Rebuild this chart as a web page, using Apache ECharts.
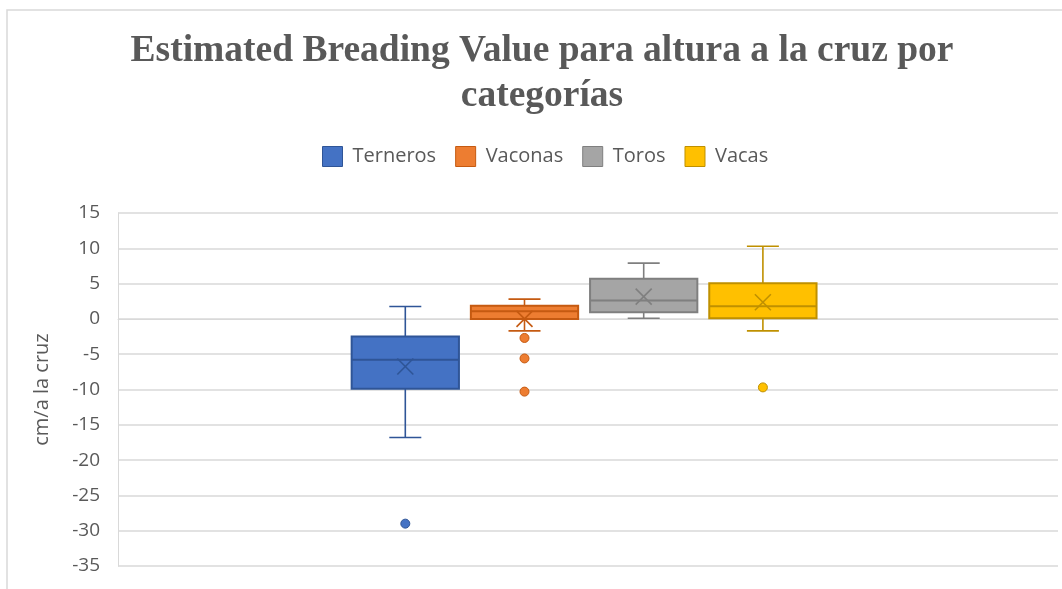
<!DOCTYPE html>
<html>
<head>
<meta charset="utf-8">
<script src="https://cdn.jsdelivr.net/npm/echarts@6/dist/echarts.min.js"></script>
<style>
  html, body { margin: 0; padding: 0; background: #fff; }
  #chart { width: 1062px; height: 589px; }
</style>
</head>
<body>
<div id="chart"></div>
<script>
// categorías y estadísticos
const categories = ['Terneros', 'Vaconas', 'Toros', 'Vacas'];
const whiskerMin = [-16.8, -1.7, 0.1, -1.7];
const q1 = [-9.9, 0.0, 0.95, 0.1];
const median = [-5.8, 1.1, 2.6, 1.8];
const q3 = [-2.5, 1.85, 5.7, 5.05];
const whiskerMax = [1.75, 2.8, 7.9, 10.3];
const mean = [-6.75, 0.0, 3.15, 2.35];
const outliers = [[-29.0], [-2.7, -5.6, -10.3], [], [-9.7]];
const yTicks = [-35, -30, -25, -20, -15, -10, -5, 0, 5, 10, 15];

const fills = ['#4472C4', '#ED7D31', '#A5A5A5', '#FFC000'];
const borders = ['#2F5597', '#C55A11', '#7F7F7F', '#BF9000'];

const chart = echarts.init(document.getElementById('chart'));

// dibuja caja, bigotes, mediana y media (X)
const renderBox = (params, api) => {
  const i = params.seriesIndex;
  const idx = api.value(0);
  const pMin = api.coord([idx, api.value(1)]);
  const pQ1 = api.coord([idx, api.value(2)]);
  const pMed = api.coord([idx, api.value(3)]);
  const pQ3 = api.coord([idx, api.value(4)]);
  const pMax = api.coord([idx, api.value(5)]);
  const pMean = api.coord([idx, api.value(6)]);
  const band = api.size([1, 0])[0];
  const half = band * 0.45;
  const cap = 16;
  const x = pMed[0];
  const line = { stroke: borders[i], lineWidth: 1.6 };
  return {
    type: 'group',
    children: [
      { type: 'line', shape: { x1: x, y1: pQ1[1], x2: x, y2: pMin[1] }, style: line },
      { type: 'line', shape: { x1: x, y1: pQ3[1], x2: x, y2: pMax[1] }, style: line },
      { type: 'line', shape: { x1: x - cap, y1: pMin[1], x2: x + cap, y2: pMin[1] }, style: line },
      { type: 'line', shape: { x1: x - cap, y1: pMax[1], x2: x + cap, y2: pMax[1] }, style: line },
      {
        type: 'rect',
        shape: { x: x - half, y: pQ3[1], width: half * 2, height: pQ1[1] - pQ3[1] },
        style: { fill: fills[i], stroke: borders[i], lineWidth: 2 }
      },
      { type: 'line', shape: { x1: x - half, y1: pMed[1], x2: x + half, y2: pMed[1] }, style: { stroke: borders[i], lineWidth: 2 } },
      { type: 'line', shape: { x1: x - 8, y1: pMean[1] - 8, x2: x + 8, y2: pMean[1] + 8 }, style: line },
      { type: 'line', shape: { x1: x - 8, y1: pMean[1] + 8, x2: x + 8, y2: pMean[1] - 8 }, style: line }
    ]
  };
};

const boxSeries = categories.map((name, i) => ({
  name: name,
  type: 'custom',
  xAxisIndex: 1,
  yAxisIndex: 1,
  renderItem: renderBox,
  encode: { x: 0, y: [1, 2, 3, 4, 5, 6] },
  itemStyle: { color: fills[i], borderColor: borders[i] },
  data: [[i, whiskerMin[i], q1[i], median[i], q3[i], whiskerMax[i], mean[i]]],
  z: 3
}));

const outlierSeries = categories.map((name, i) => ({
  name: name + ' atípicos',
  type: 'scatter',
  xAxisIndex: 1,
  yAxisIndex: 1,
  symbol: 'circle',
  symbolSize: 9,
  itemStyle: { color: fills[i], borderColor: borders[i], borderWidth: 1, opacity: 1 },
  data: outliers[i].map(v => [i, v]),
  z: 4
}));

const option = {
  animation: false,
  backgroundColor: '#fff',
  graphic: [{
    type: 'rect',
    shape: { x: 7, y: 10, width: 1200, height: 800 },
    style: { fill: 'none', stroke: '#d9d9d9', lineWidth: 1.5 },
    silent: true
  }],
  title: {
    text: 'Estimated Breading Value para altura a la cruz por\ncategorías',
    left: 537,
    top: 24,
    textAlign: 'center',
    textStyle: {
      fontFamily: 'Liberation Serif',
      fontWeight: 'bold',
      fontSize: 37.5,
      lineHeight: 45,
      color: '#595959'
    }
  },
  legend: {
    data: categories.map((name, i) => ({
      name: name,
      itemStyle: { color: fills[i], borderColor: borders[i], borderWidth: 1 }
    })),
    left: 317,
    top: 141,
    icon: 'rect',
    itemWidth: 20,
    itemHeight: 20,
    itemGap: 19,
    textStyle: {
      fontFamily: 'Open Sans',
      fontSize: 20,
      color: '#595959',
      padding: [0, 0, 0, 5]
    }
  },
  grid: [
    { left: 118, right: 4, top: 213, bottom: 23 },
    { left: 345.7, right: 239.5, top: 213, bottom: 23 }
  ],
  xAxis: [
    {
      type: 'category',
      gridIndex: 0,
      data: [''],
      axisLine: { show: true, lineStyle: { color: '#d9d9d9' } },
      axisTick: { show: false },
      axisLabel: { show: false }
    },
    {
      type: 'category',
      gridIndex: 1,
      data: categories,
      show: false
    }
  ],
  yAxis: [
    {
      type: 'value',
      gridIndex: 0,
      min: yTicks[0],
      max: yTicks[yTicks.length - 1],
      interval: 5,
      name: 'cm/a la cruz',
      nameLocation: 'middle',
      nameRotate: 90,
      nameGap: 66,
      nameTextStyle: { fontFamily: 'Open Sans', fontSize: 20, color: '#595959' },
      axisLine: { show: true, lineStyle: { color: '#d9d9d9' } },
      axisTick: { show: false },
      axisLabel: { fontFamily: 'Open Sans', fontSize: 19, color: '#595959', margin: 18 },
      splitLine: { lineStyle: { color: '#d9d9d9', width: 1.5 } }
    },
    {
      type: 'value',
      gridIndex: 1,
      min: yTicks[0],
      max: yTicks[yTicks.length - 1],
      interval: 5,
      show: false,
      splitLine: { show: false }
    }
  ],
  series: boxSeries.concat(outlierSeries)
};

chart.setOption(option);
</script>
</body>
</html>
